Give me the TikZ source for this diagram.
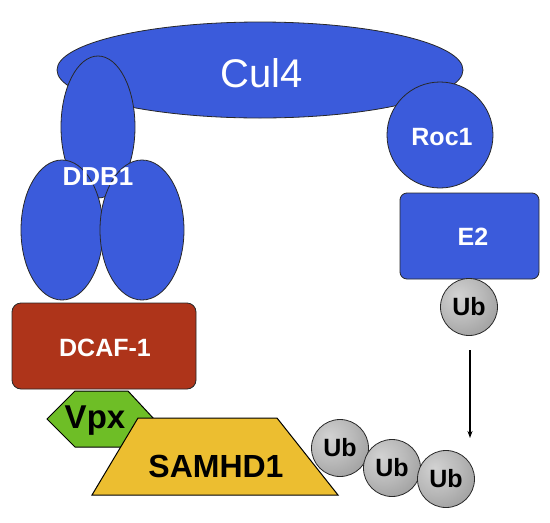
\documentclass[tikz,border=0pt]{standalone}
\usepackage{fontspec}
\setmainfont{Liberation Sans}
\usetikzlibrary{shapes.geometric,arrows.meta}
\definecolor{protblue}{RGB}{59,91,219}
\definecolor{dcafred}{RGB}{174,52,26}
\definecolor{vpxgreen}{RGB}{110,190,38}
\definecolor{samyellow}{RGB}{236,190,48}
\definecolor{edgegray}{RGB}{40,40,40}
\pgfdeclareradialshading{ubshade}{\pgfpoint{-10bp}{10bp}}{%
  color(0bp)=(gray!35);
  color(20bp)=(gray!55);
  color(40bp)=(gray!80);
  color(55bp)=(gray!100);
  color(100bp)=(gray!100)}
\tikzset{
  blueshape/.style={fill=protblue,draw=edgegray,line width=0.8pt,inner sep=0pt},
  blueell/.style={blueshape,ellipse},
  wlabel/.style={text=white,font=\bfseries\fontsize{25}{25}\selectfont,inner sep=0pt},
  blabel/.style={text=black,font=\bfseries\fontsize{32}{32}\selectfont,inner sep=0pt},
  ubball/.style={circle,draw=edgegray,line width=0.8pt,shading=ubshade,minimum size=57pt,inner sep=0pt,
    font=\bfseries\fontsize{25}{25}\selectfont,text=black},
}
\begin{document}
\begin{tikzpicture}[x=1pt,y=-1pt]
\useasboundingbox (0,0) rectangle (550,523);
% Cul4
\node[blueell,minimum width=406pt,minimum height=96pt] (cul4) at (260,70) {};
\node[text=white,font=\fontsize{40}{40}\selectfont,inner sep=0pt] (cul4t) at (262,73) {Cul4};
% DDB1
\node[blueell,minimum width=74pt,minimum height=142pt] (ddbtop) at (98,127) {};
\node[blueell,minimum width=82pt,minimum height=140pt] (ddbl) at (62,230) {};
\node[blueell,minimum width=84pt,minimum height=140pt] (ddbr) at (142,230) {};
\node[wlabel,font=\bfseries\fontsize{26}{26}\selectfont] (ddbt) at (98,177) {DDB1};
% Roc1
\node[blueshape,circle,minimum size=106pt] (roc1) at (440,135) {};
\node[wlabel] (roc1t) at (442,137) {Roc1};
% E2
\node[blueshape,rectangle,rounded corners=7pt,minimum width=139pt,minimum height=86pt] (e2) at (469.5,236) {};
\node[wlabel] (e2t) at (473,237) {E2};
% DCAF-1
\node[rectangle,rounded corners=9pt,fill=dcafred,draw=edgegray,line width=0.8pt,minimum width=184pt,minimum height=86pt,inner sep=0pt] (dcaf) at (104,346) {};
\node[wlabel] (dcaft) at (105,348) {DCAF-1};
% Vpx hexagon
\draw[fill=vpxgreen,draw=black,line width=1pt] (47,419) -- (75,391) -- (128,391) -- (154,419) -- (128,447) -- (75,447) -- cycle;
\node[blabel,font=\bfseries\fontsize{33}{33}\selectfont] (vpx) at (95,421) {Vpx};
% SAMHD1 trapezoid
\draw[fill=samyellow,draw=black,line width=1pt] (138,418) -- (277,418) -- (338,495) -- (92,495) -- cycle;
\node[blabel] (sam) at (216,466) {SAMHD1};
% Ub balls
\node[ubball] (ub0) at (469,307) {Ub};
\node[ubball] (ub1) at (340,448) {Ub};
\node[ubball] (ub2) at (392,468) {Ub};
\node[ubball] (ub3) at (446,479) {Ub};
% arrow
\coordinate (a1) at (470,350);
\coordinate (a2) at (470,438);
\draw[line width=1.1pt,-{Stealth[length=7pt,width=5pt]}] (a1) -- (a2);
\end{tikzpicture}
\end{document}
